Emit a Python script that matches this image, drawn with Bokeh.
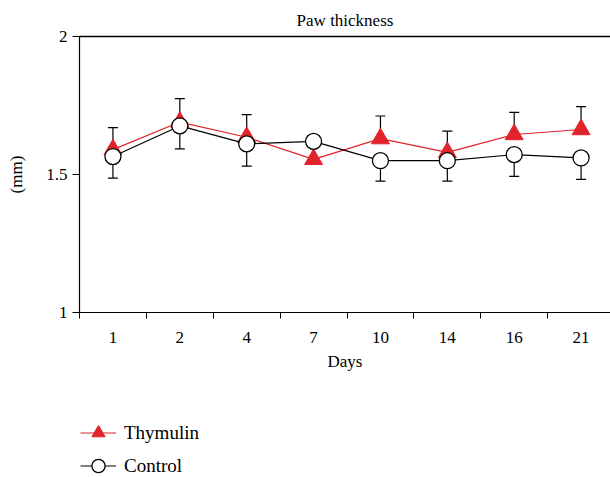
from bokeh.plotting import figure
from bokeh.layouts import column
from bokeh.models import (FixedTicker, LinearAxis, Range1d, ColumnDataSource, Whisker,
                          TeeHead, Legend, LegendItem)
from bokeh.embed import file_html
from bokeh.resources import INLINE

days = ["1", "2", "4", "7", "10", "14", "16", "21"]
thymulin = [1.59, 1.69, 1.635, 1.555, 1.63, 1.58, 1.645, 1.663]
thymulin_err = [0.08, 0.085, 0.082, 0.0, 0.082, 0.077, 0.08, 0.083]
control = [1.565, 1.676, 1.611, 1.62, 1.55, 1.55, 1.572, 1.56]
control_err = [0.078, 0.083, 0.081, 0.0, 0.074, 0.074, 0.079, 0.078]
y_ticks = [1, 1.5, 2]
series_names = ["Thymulin", "Control"]

FONT = "Liberation Serif"
RED = "#e1232b"

xs = list(range(1, len(days) + 1))

p = figure(width=610, height=382, frame_width=531, frame_height=276,
           min_border_left=79, min_border_top=36, min_border_right=0, min_border_bottom=70,
           x_range=Range1d(0.5, 8.44), y_range=Range1d(1, 2),
           output_backend="svg", toolbar_location=None, title="Paw thickness")
p.title.align = "center"
p.title.text_font = FONT
p.title.text_font_size = "17px"
p.title.text_font_style = "normal"
p.title.text_color = "black"
p.title.standoff = 14
p.outline_line_color = None
p.grid.visible = False
p.background_fill_color = "white"
p.border_fill_color = "white"

# x axis
xa = p.xaxis[0]
xa.ticker = FixedTicker(ticks=xs, minor_ticks=[x + 0.5 for x in range(0, len(days) + 1)])
xa.major_label_overrides = {x: d for x, d in zip(xs, days)}
xa.major_tick_out = 0
xa.major_tick_in = 0
xa.minor_tick_out = 6
xa.minor_tick_in = 0
xa.minor_tick_line_color = "black"
xa.major_label_standoff = 13
xa.axis_label = "Days"
xa.axis_label_standoff = 6
xa.axis_label_text_font_style = "normal"

# y axis
ya = p.yaxis[0]
ya.ticker = FixedTicker(ticks=y_ticks, minor_ticks=[])
ya.major_label_overrides = {1: "1", 1.5: "1.5", 2: "2"}
ya.major_tick_out = 7
ya.major_tick_in = 0
ya.major_label_standoff = 5
ya.axis_label = "(mm)"
ya.axis_label_standoff = 17
ya.axis_label_text_font_style = "normal"

for ax in (xa, ya):
    ax.axis_line_color = "black"
    ax.axis_line_width = 1.2
    ax.major_tick_line_color = "black" if ax is ya else None
    ax.major_label_text_font = FONT
    ax.major_label_text_font_size = "17px"
    ax.major_label_text_color = "black"
    ax.axis_label_text_font = FONT
    ax.axis_label_text_font_size = "17px"
    ax.axis_label_text_color = "black"

top = LinearAxis(ticker=FixedTicker(ticks=[]), major_label_text_font_size="0px",
                 axis_line_width=1.5, major_tick_line_color=None, minor_tick_line_color=None)
p.add_layout(top, "above")

# error bars
tsrc = ColumnDataSource(dict(x=[x for x, e in zip(xs, thymulin_err) if e > 0],
                             lo=[v for v, e in zip(thymulin, thymulin_err) if e > 0],
                             hi=[v + e for v, e in zip(thymulin, thymulin_err) if e > 0]))
csrc = ColumnDataSource(dict(x=[x for x, e in zip(xs, control_err) if e > 0],
                             lo=[v - e for v, e in zip(control, control_err) if e > 0],
                             hi=[v for v, e in zip(control, control_err) if e > 0]))
for src, up in ((tsrc, True), (csrc, False)):
    w = Whisker(source=src, base="x", lower="lo", upper="hi", level="underlay",
                line_color="black", line_width=1.2)
    if up:
        w.upper_head = TeeHead(size=10, line_color="black", line_width=1.2)
        w.lower_head = None
    else:
        w.lower_head = TeeHead(size=10, line_color="black", line_width=1.2)
        w.upper_head = None
    p.add_layout(w)

p.line(xs, thymulin, line_color=RED, line_width=1.2)
p.scatter(xs, thymulin, marker="triangle", size=18, fill_color=RED, line_color=RED)
p.line(xs, control, line_color="black", line_width=1.2)
p.scatter(xs, control, marker="circle", size=16, fill_color="white",
          line_color="black", line_width=1.3)

# legend panel (its own renderers fall outside its ranges, only the legend shows)
p2 = figure(width=610, height=95, x_range=Range1d(0, 0.5), y_range=Range1d(0, 0.5),
            min_border=0, output_backend="svg", toolbar_location=None)
p2.axis.visible = False
p2.grid.visible = False
p2.outline_line_color = None
tl = p2.line(xs, thymulin, line_color=RED, line_width=1.2)
tm = p2.scatter(xs, thymulin, marker="triangle", size=18, fill_color=RED, line_color=RED)
cl = p2.line(xs, control, line_color="black", line_width=1.2)
cm = p2.scatter(xs, control, marker="circle", size=16, fill_color="white",
                line_color="black", line_width=1.3)

legend = Legend(items=[LegendItem(label=series_names[0], renderers=[tl, tm]),
                       LegendItem(label=series_names[1], renderers=[cl, cm])],
                location=(1, -5), orientation="vertical",
                glyph_width=36, glyph_height=33, label_height=33, spacing=0,
                padding=0, margin=0, label_standoff=8,
                border_line_color=None, background_fill_alpha=0,
                label_text_font=FONT, label_text_font_size="19px", label_text_color="black")
p2.add_layout(legend, "center")

layout = column(p, p2, spacing=0)
open("out.html", "w").write(file_html(layout, INLINE))
